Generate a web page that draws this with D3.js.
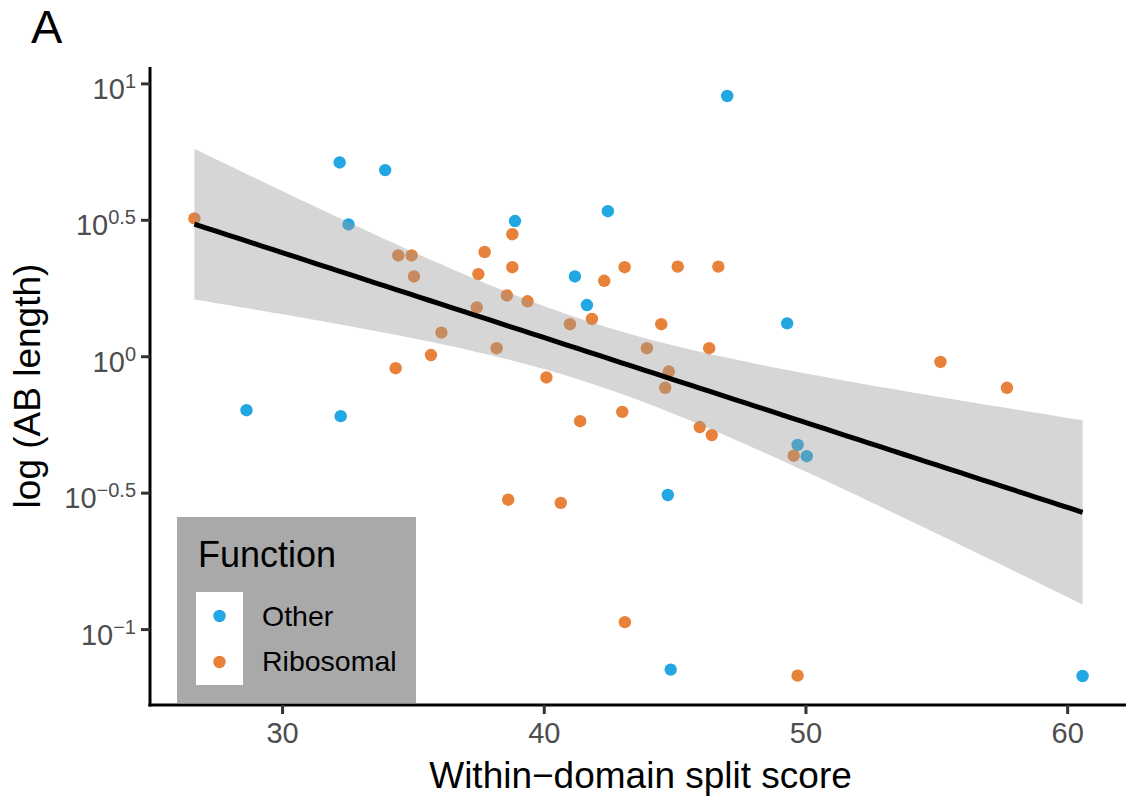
<!DOCTYPE html>
<html>
<head>
<meta charset="utf-8">
<script src="https://cdn.jsdelivr.net/npm/d3@7"></script>
<style>
  body { margin: 0; background: #fff; }
  text { font-family: "Liberation Sans", Arial, Helvetica, sans-serif; }
</style>
</head>
<body>
<script>
// split score (x) and AB length (y) per gene
var otherX = [32.20, 33.94, 32.54, 38.90, 42.45, 47.01, 41.19, 41.65, 49.30, 28.64, 32.24, 44.74, 49.70, 50.05, 44.85, 60.59];
var otherY = [5.13, 4.81, 3.04, 3.13, 3.40, 8.99, 1.96, 1.54, 1.32, 0.634, 0.603, 0.310, 0.473, 0.430, 0.0710, 0.0673];

var riboX = [26.65, 34.44, 34.95, 35.04, 37.74, 38.80, 37.50, 38.80, 38.59, 39.38, 37.44, 36.09, 38.20, 35.69, 34.34,
             41.00, 41.84, 40.10, 41.39, 43.00, 42.31, 43.09, 45.12, 46.67, 44.49, 43.94, 46.32, 44.78, 44.64, 45.96,
             46.42, 49.55, 55.16, 57.70, 38.64, 40.65, 43.10, 49.70];
var riboY = [3.20, 2.34, 2.34, 1.96, 2.41, 2.80, 2.00, 2.12, 1.67, 1.59, 1.51, 1.22, 1.07, 1.01, 0.904,
             1.31, 1.37, 0.836, 0.578, 0.625, 1.89, 2.12, 2.13, 2.13, 1.31, 1.07, 1.07, 0.879, 0.766, 0.550,
             0.514, 0.432, 0.953, 0.766, 0.298, 0.290, 0.106, 0.0675];

var groups = ["Other", "Ribosomal"];
var colors = ["#22A7E3", "#E8823A"];
var xTicks = [30, 40, 50, 60];
var yTickExp = [-1, -0.5, 0, 0.5, 1];
var yTickLabels = ["\u22121", "\u22120.5", "0", "0.5", "1"];

var W = 1126, H = 801;
var pL = 150, pR = 1127, pT = 67, pB = 705;

var pts = [];
otherX.forEach(function(v, i) { pts.push({x: v, y: otherY[i], g: 0}); });
riboX.forEach(function(v, i) { pts.push({x: v, y: riboY[i], g: 1}); });

var xs = pts.map(function(d) { return d.x; });
var ls = pts.map(function(d) { return Math.log10(d.y); });
var xmin = d3.min(xs), xmax = d3.max(xs);
var lmin = d3.min(ls), lmax = d3.max(ls);
var xr = xmax - xmin, lr = lmax - lmin;

var x = d3.scaleLinear().domain([xmin - 0.05 * xr, xmax + 0.05 * xr]).range([pL, pR]);
var y = d3.scaleLog().domain([Math.pow(10, lmin - 0.05 * lr), Math.pow(10, lmax + 0.05 * lr)]).range([pB, pT]);

// linear fit of log10(y) on x, with 95% confidence band
var n = pts.length;
var mx = d3.mean(xs), ml = d3.mean(ls);
var sxx = d3.sum(xs, function(v) { return (v - mx) * (v - mx); });
var sxl = d3.sum(pts, function(d, i) { return (xs[i] - mx) * (ls[i] - ml); });
var b = sxl / sxx, a = ml - b * mx;
var sse = d3.sum(pts, function(d, i) { var r = ls[i] - (a + b * xs[i]); return r * r; });
var s = Math.sqrt(sse / (n - 2));
var tq = 2.0066;
var fit = d3.range(80).map(function(i) {
  var xv = xmin + i * xr / 79;
  var f = a + b * xv;
  var se = s * Math.sqrt(1 / n + (xv - mx) * (xv - mx) / sxx);
  return {x: xv, f: Math.pow(10, f), lo: Math.pow(10, f - tq * se), hi: Math.pow(10, f + tq * se)};
});

var svg = d3.select("body").append("svg").attr("width", W).attr("height", H);

svg.append("text").attr("x", 31).attr("y", 43).attr("font-size", 47).attr("fill", "#000").text("A");

// points
svg.append("g").selectAll("circle")
  .data(pts)
  .enter().append("circle")
  .attr("cx", function(d) { return x(d.x); })
  .attr("cy", function(d) { return y(d.y); })
  .attr("r", 6.2)
  .attr("fill", function(d) { return colors[d.g]; });

// band and line
svg.append("path")
  .datum(fit)
  .attr("d", d3.area().x(function(d) { return x(d.x); }).y0(function(d) { return y(d.lo); }).y1(function(d) { return y(d.hi); }))
  .attr("fill", "#999999")
  .attr("fill-opacity", 0.4);

svg.append("path")
  .datum(fit)
  .attr("d", d3.line().x(function(d) { return x(d.x); }).y(function(d) { return y(d.f); }))
  .attr("fill", "none")
  .attr("stroke", "#000")
  .attr("stroke-width", 5);

// axes
var xAxis = svg.append("g")
  .attr("transform", "translate(0," + pB + ")")
  .call(d3.axisBottom(x).tickValues(xTicks).tickSize(9).tickSizeOuter(0).tickPadding(8));
var yAxis = svg.append("g")
  .attr("transform", "translate(" + pL + ",0)")
  .call(d3.axisLeft(y).tickValues(yTickExp.map(function(e) { return Math.pow(10, e); })).tickSize(9).tickSizeOuter(0).tickFormat(""));

[xAxis, yAxis].forEach(function(g) {
  g.select(".domain").attr("stroke", "#000").attr("stroke-width", 3);
  g.selectAll(".tick line").attr("stroke", "#333").attr("stroke-width", 3);
});
xAxis.select(".domain").attr("d", "M" + (pL - 1.5) + ",0H" + W);
yAxis.select(".domain").attr("d", "M0," + pT + "V" + (pB + 1.5));

xAxis.selectAll(".tick text")
  .attr("font-size", 29)
  .attr("fill", "#4D4D4D")
  .attr("font-family", "Liberation Sans, Arial, sans-serif");

yAxis.selectAll(".tick").each(function(d, i) {
  var t = d3.select(this).append("text")
    .attr("x", -14)
    .attr("y", 15)
    .attr("text-anchor", "end")
    .attr("fill", "#4D4D4D")
    .attr("font-size", 29);
  t.append("tspan").text("10");
  t.append("tspan").attr("font-size", 20).attr("dy", -11).text(yTickLabels[i]);
});

// axis titles
svg.append("text")
  .attr("x", (pL + pR) / 2 + 2).attr("y", 788)
  .attr("text-anchor", "middle").attr("font-size", 37).attr("fill", "#000")
  .text("Within\u2212domain split score");
svg.append("text")
  .attr("transform", "translate(40," + ((pT + pB) / 2) + ")rotate(-90)")
  .attr("text-anchor", "middle").attr("font-size", 37).attr("fill", "#000")
  .text("log (AB length)");

// legend
var leg = svg.append("g");
leg.append("rect").attr("x", 177).attr("y", 517).attr("width", 239).attr("height", 186).attr("fill", "#A9A9A9");
leg.append("text").attr("x", 198).attr("y", 567).attr("font-size", 36).attr("fill", "#000").text("Function");
leg.append("rect").attr("x", 196).attr("y", 592).attr("width", 47).attr("height", 93).attr("fill", "#fff");
groups.forEach(function(g, i) {
  leg.append("circle").attr("cx", 219.5).attr("cy", 616 + i * 46).attr("r", 6.2).attr("fill", colors[i]);
  leg.append("text").attr("x", 262).attr("y", 626 + i * 45).attr("font-size", 28.5).attr("fill", "#000").text(g);
});
</script>
</body>
</html>
